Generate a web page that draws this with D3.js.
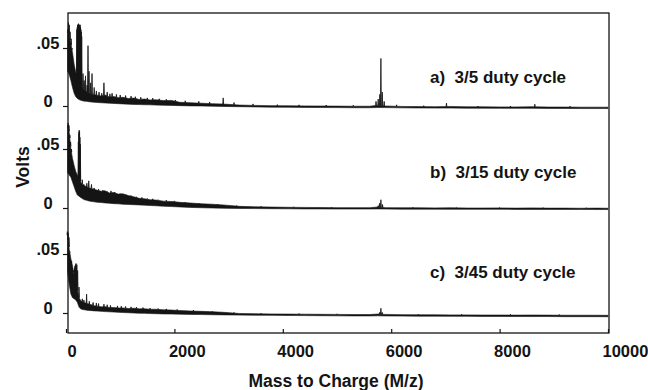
<!DOCTYPE html>
<html>
<head>
<meta charset="utf-8">
<script src="https://cdn.jsdelivr.net/npm/d3@7"></script>
<style>
  body { margin: 0; background: #fff; }
  svg { display: block; font-family: "Liberation Sans", Arial, sans-serif; font-weight: bold; }
</style>
</head>
<body>
<svg width="648" height="390"></svg>
<script>
// m/z grid the noise envelopes are read on
const mz = [30, 60, 90, 120, 150, 180, 210, 240, 270, 300,
  340, 380, 420, 470, 520, 580, 650, 720, 800, 880,
  960, 1050, 1150, 1250, 1350, 1450, 1550, 1650, 1800, 1950,
  2100, 2300, 2500, 2700, 2900, 3200, 3500, 3800, 4100, 4400,
  4700, 5000, 5300, 5600, 5750, 5900, 6200, 6500, 6800, 7100,
  7400, 7700, 8000, 8300, 8600, 8900, 9200, 9500, 9800, 10000];

// a) 3/5 duty cycle
const upperA = [0.066, 0.06, 0.054, 0.046, 0.036, 0.029, 0.024, 0.021, 0.018, 0.016,
  0.014, 0.0125, 0.0115, 0.0105, 0.0098, 0.0092, 0.0086, 0.0094, 0.0078, 0.0082,
  0.0072, 0.0075, 0.0064, 0.0068, 0.0057, 0.006, 0.0052, 0.0054, 0.0047, 0.0048,
  0.0032, 0.0028, 0.0024, 0.002, 0.0017, 0.0008, 0.0005, 0.0003, 0.0002, 0.0001,
  0, -0.0001, -0.0002, -0.0002, 0.0006, 0, -0.0004, -0.0005, -0.0006, -0.0004,
  -0.0007, -0.0007, -0.0008, -0.0008, -0.0006, -0.0009, -0.0009, -0.001, -0.001, -0.001];
const lowerA = [0.03, 0.027, 0.022, 0.016, 0.011, 0.008, 0.0065, 0.0055, 0.005, 0.0045,
  0.0042, 0.004, 0.0037, 0.0034, 0.0032, 0.003, 0.0028, 0.0026, 0.0024, 0.0022,
  0.002, 0.0018, 0.0016, 0.0014, 0.0012, 0.0011, 0.001, 0.0008, 0.0006, 0.0005,
  0.0003, 0.0001, 0, -0.0002, -0.0004, -0.0006, -0.0008, -0.001, -0.0011, -0.0012,
  -0.0013, -0.0014, -0.0015, -0.0015, -0.0013, -0.0014, -0.0016, -0.0017, -0.0018, -0.0018,
  -0.0019, -0.0019, -0.002, -0.002, -0.002, -0.0021, -0.0021, -0.0022, -0.0022, -0.0022];
const peaksA = [[45, 0.072], [60, 0.07], [75, 0.064], [95, 0.058], [110, 0.05],
  [200, 0.066], [208, 0.068], [215, 0.07], [222, 0.07], [230, 0.071], [238, 0.07], [245, 0.069],
  [252, 0.07], [260, 0.07], [268, 0.068], [275, 0.066], [283, 0.064], [290, 0.06],
  [314, 0.028], [335, 0.022], [360, 0.026], [390, 0.018], [406, 0.052], [425, 0.03],
  [455, 0.02], [480, 0.028], [520, 0.016], [560, 0.013], [610, 0.012], [660, 0.011], [700, 0.02],
  [760, 0.012], [810, 0.0105], [850, 0.011], [930, 0.01], [1000, 0.0095], [1100, 0.009],
  [1200, 0.0085], [1280, 0.008], [1380, 0.0075], [1500, 0.007], [1600, 0.0068], [1720, 0.0062],
  [1850, 0.0058], [2020, 0.0052], [2200, 0.0045], [2450, 0.004], [2650, 0.0035], [2900, 0.007],
  [3100, 0.003], [3450, 0.0018], [3900, 0.0012], [4300, 0.001], [4800, 0.0008], [5300, 0.0006],
  [5720, 0.004], [5760, 0.006], [5790, 0.01], [5810, 0.041], [5835, 0.012], [5870, 0.004],
  [6100, 0.001], [6600, 0.0003], [7020, 0.0025], [7600, 0], [8200, 0], [8650, 0.0015], [9300, -0.0002]];

// b) 3/15 duty cycle
const upperB = [0.07, 0.064, 0.05, 0.042, 0.036, 0.031, 0.028, 0.024, 0.022, 0.02,
  0.019, 0.018, 0.0172, 0.0165, 0.0158, 0.015, 0.0142, 0.0146, 0.0128, 0.0132,
  0.0118, 0.012, 0.0105, 0.0095, 0.0082, 0.0078, 0.007, 0.0068, 0.0058, 0.0055,
  0.0048, 0.0042, 0.0036, 0.0032, 0.0026, 0.0014, 0.001, 0.0008, 0.0006, 0.0005,
  0.0004, 0.0003, 0.0003, 0.0003, 0.0008, 0.0003, 0.0002, 0.0002, 0.0001, 0.0002,
  0, 0, 0.0001, -0.0001, 0.0001, -0.0001, -0.0001, -0.0002, -0.0001, -0.0002];
const lowerB = [0.03, 0.028, 0.026, 0.022, 0.018, 0.014, 0.011, 0.01, 0.009, 0.008,
  0.007, 0.0065, 0.006, 0.0056, 0.0052, 0.0048, 0.0046, 0.0043, 0.004, 0.0037,
  0.0035, 0.0032, 0.003, 0.0028, 0.0026, 0.0024, 0.0021, 0.0019, 0.0015, 0.0012,
  0.0009, 0.0005, 0.0002, 0, -0.0002, -0.0004, -0.0005, -0.0006, -0.0007, -0.0008,
  -0.0008, -0.0009, -0.0009, -0.0009, -0.0008, -0.0009, -0.001, -0.001, -0.001, -0.0011,
  -0.0011, -0.0011, -0.0011, -0.0012, -0.0012, -0.0012, -0.0012, -0.0012, -0.0013, -0.0013];
const peaksB = [[40, 0.072], [55, 0.07], [70, 0.062], [85, 0.056], [100, 0.05],
  [228, 0.056], [236, 0.064], [243, 0.066], [250, 0.065], [257, 0.06], [264, 0.054],
  [300, 0.024], [330, 0.02], [385, 0.021], [420, 0.023], [470, 0.02], [520, 0.017],
  [600, 0.016], [680, 0.015], [760, 0.014], [830, 0.0145], [900, 0.0135], [1000, 0.012],
  [1120, 0.011], [1200, 0.0105], [1300, 0.0095], [1400, 0.009], [1500, 0.008],
  [1600, 0.0078], [1700, 0.007], [1850, 0.0066], [2000, 0.006], [2200, 0.005],
  [2450, 0.0042], [2800, 0.0034], [3150, 0.002], [3600, 0.0014], [4200, 0.001],
  [4900, 0.0008], [5760, 0.002], [5785, 0.004], [5810, 0.007], [5840, 0.003],
  [6400, 0.0006], [7200, 0.0004], [8000, 0.0004], [8800, 0.0003], [9600, 0.0002]];

// c) 3/45 duty cycle
const upperC = [0.066, 0.054, 0.046, 0.04, 0.032, 0.026, 0.02, 0.013, 0.0105, 0.0095,
  0.0088, 0.0082, 0.0076, 0.007, 0.0062, 0.0057, 0.0052, 0.0054, 0.0046, 0.0047,
  0.0042, 0.0043, 0.0038, 0.004, 0.0035, 0.0036, 0.0031, 0.0032, 0.0027, 0.0025,
  0.0021, 0.0017, 0.0014, 0.0011, 0.0006, -0.0004, -0.0006, -0.0008, -0.0009, -0.001,
  -0.0011, -0.0012, -0.0013, -0.0013, -0.0009, -0.0012, -0.0014, -0.0015, -0.0015, -0.0016,
  -0.0016, -0.0017, -0.0017, -0.0018, -0.0017, -0.0018, -0.0019, -0.0019, -0.0019, -0.002];
const lowerC = [0.035, 0.024, 0.016, 0.013, 0.012, 0.011, 0.009, 0.005, 0.0035, 0.003,
  0.0027, 0.0024, 0.0022, 0.002, 0.0018, 0.0016, 0.0014, 0.0012, 0.001, 0.0008,
  0.0006, 0.0004, 0.0002, 0, -0.0002, -0.0003, -0.0005, -0.0006, -0.0008, -0.0009,
  -0.001, -0.0012, -0.0013, -0.0015, -0.0016, -0.0018, -0.0019, -0.002, -0.0021, -0.0022,
  -0.0023, -0.0024, -0.0025, -0.0025, -0.0024, -0.0025, -0.0026, -0.0027, -0.0027, -0.0028,
  -0.0028, -0.0029, -0.0029, -0.003, -0.003, -0.003, -0.0031, -0.0031, -0.0031, -0.0032];
const peaksC = [[25, 0.069], [40, 0.068], [55, 0.064], [70, 0.052], [100, 0.042],
  [140, 0.036], [158, 0.038], [165, 0.04], [175, 0.041], [185, 0.042], [193, 0.04], [200, 0.041],
  [215, 0.036], [240, 0.022], [300, 0.012], [330, 0.011], [380, 0.016], [430, 0.01],
  [500, 0.009], [560, 0.0085], [600, 0.008], [700, 0.0075], [760, 0.007], [820, 0.0065],
  [950, 0.006], [1020, 0.0058], [1100, 0.0055], [1200, 0.0052], [1300, 0.005], [1420, 0.0046],
  [1550, 0.0042], [1700, 0.0038], [1850, 0.0035], [2050, 0.003], [2350, 0.0024],
  [2700, 0.0016], [3100, 0.0004], [3600, -0.0002], [4300, -0.0005], [5000, -0.0007],
  [5785, 0.0005], [5810, 0.004], [5835, 0.0005],
  [6500, -0.001], [7300, -0.0011], [8200, -0.0012], [9100, -0.0013]];

const panelLabels = ['a)  3/5 duty cycle', 'b)  3/15 duty cycle', 'c)  3/45 duty cycle'];
const xTicks = [0, 2000, 4000, 6000, 8000, 10000];
const yTicks = [0, 0.05];

const ink = '#141414';
const svg = d3.select('svg');
const frame = { left: 68, top: 13, right: 609, bottom: 333 };

const x = d3.scaleLinear().domain([0, 10000]).range([66, 608]);

const panels = [
  { label: panelLabels[0], upper: upperA, lower: lowerA, peaks: peaksA, zero: 106, top: 48, labelY: 83 },
  { label: panelLabels[1], upper: upperB, lower: lowerB, peaks: peaksB, zero: 208, top: 149, labelY: 178 },
  { label: panelLabels[2], upper: upperC, lower: lowerC, peaks: peaksC, zero: 313, top: 254, labelY: 278 }
];

panels.forEach(p => {
  const y = d3.scaleLinear().domain([0, 0.05]).range([p.zero, p.top]);

  // noise band
  const band = d3.area()
    .x((d, i) => x(mz[i]))
    .y0((d, i) => y(p.lower[i]))
    .y1(d => y(d));
  svg.append('path').datum(p.upper)
    .attr('d', band)
    .attr('fill', ink).attr('stroke', ink).attr('stroke-width', 0.6);

  // spikes standing on the band
  const bandTop = d3.scaleLinear().domain(mz).range(p.upper).clamp(true);
  const spike = d3.line().x(d => x(d[0])).y(d => y(d[1]));
  svg.append('g').selectAll('path').data(p.peaks).join('path')
    .attr('d', d => spike([[d[0] - 7, bandTop(d[0])], [d[0], d[1]], [d[0] + 7, bandTop(d[0])]]))
    .attr('fill', ink).attr('stroke', ink).attr('stroke-width', 0.8);

  const ay = svg.append('g')
    .attr('transform', `translate(${frame.left},0)`)
    .call(d3.axisLeft(y).tickValues(yTicks).tickSize(5)
      .tickFormat(d => d === 0 ? '0' : d3.format('.2f')(d).replace(/^0/, '')));
  ay.select('.domain').remove();
  ay.selectAll('line').attr('stroke', ink).attr('stroke-width', 1.2);
  ay.selectAll('text')
    .attr('x', -20).attr('dy', 0)
    .attr('text-anchor', 'middle')
    .attr('fill', ink)
    .style('font-size', '16.5px')
    .style('font-family', '"Liberation Sans", Arial, sans-serif')
    .style('font-weight', 'bold');

  svg.append('text')
    .attr('x', 430).attr('y', p.labelY)
    .attr('fill', ink)
    .style('font-size', '17px')
    .style('white-space', 'pre')
    .text(p.label);
});

// frame
svg.append('rect')
  .attr('x', frame.left).attr('y', frame.top)
  .attr('width', frame.right - frame.left).attr('height', frame.bottom - frame.top)
  .attr('fill', 'none').attr('stroke', ink).attr('stroke-width', 1.3);

const ax = svg.append('g')
  .attr('transform', `translate(0,${frame.bottom})`)
  .call(d3.axisBottom(x).tickValues(xTicks).tickSize(-4).tickFormat(d3.format('d')));
ax.select('.domain').remove();
ax.selectAll('line').attr('stroke', ink).attr('stroke-width', 1.2);
ax.selectAll('text')
  .attr('y', 24).attr('dy', 0)
  .attr('x', d => d === 0 ? 1 : -6)
  .attr('text-anchor', 'start')
  .attr('fill', ink)
  .style('font-size', '16.5px')
  .style('font-family', '"Liberation Sans", Arial, sans-serif')
  .style('font-weight', 'bold');

svg.append('text')
  .attr('x', 336).attr('y', 387)
  .attr('text-anchor', 'middle')
  .attr('fill', ink)
  .style('font-size', '17.5px')
  .text('Mass to Charge (M/z)');

svg.append('text')
  .attr('transform', 'translate(29,167) rotate(-90)')
  .attr('text-anchor', 'middle')
  .attr('fill', ink)
  .style('font-size', '17.5px')
  .text('Volts');
</script>
</body>
</html>
